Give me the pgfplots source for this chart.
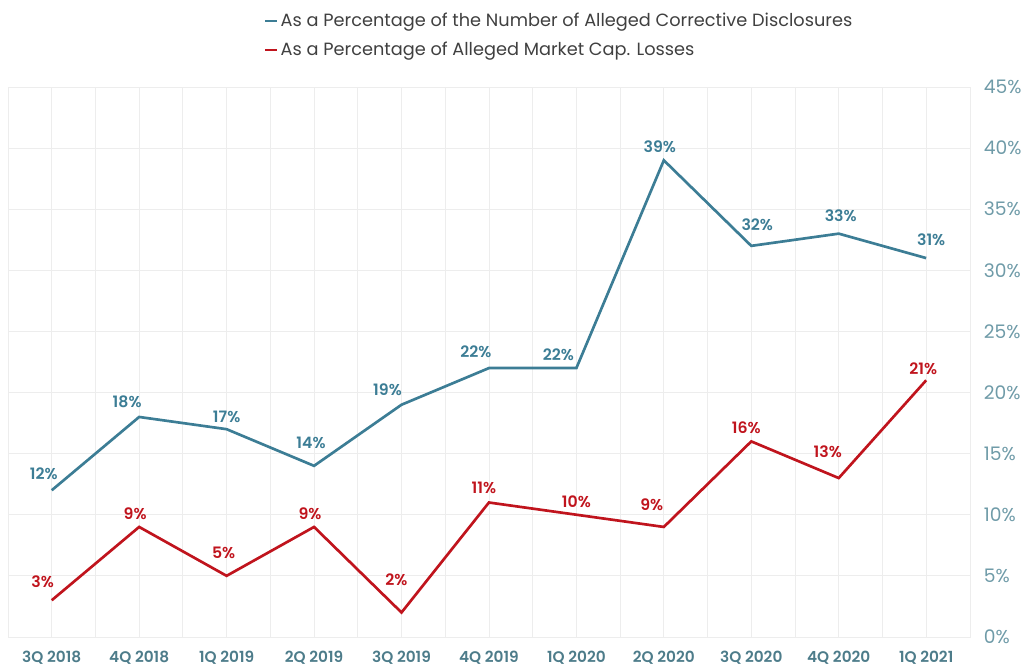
\documentclass[border=0pt]{standalone}
\usepackage{pgfplots}
\pgfplotsset{compat=1.18}
\usepackage{fontspec}
\setmainfont{Poppins}
\newfontfamily\psemi{Poppins SemiBold}
\definecolor{cblue}{HTML}{3C7D95}
\definecolor{cred}{HTML}{C0141D}
\definecolor{xlab}{HTML}{4D7C8A}
\definecolor{ylab}{HTML}{6F9BA8}
\definecolor{gridc}{HTML}{EDEDED}
\pgfplotstableread{
x y dx dy
0 12 -6 12.75
1 18 -9 11.25
2 17 0 9
3 14 -2.25 17.25
4 19 -10.5 11.25
5 22 -9.75 12
6 22 -13.5 9.75
7 39 -3 10.5
8 32 4.5 15.75
9 33 1.5 13.5
10 31 3.75 13.5
}\blue
\pgfplotstableread{
x y dx dy
0 3 -6.75 14.25
1 9 -3 9.75
2 5 -2.25 17.25
3 9 -3 9.75
4 2 -3.75 24.75
5 11 -3.75 11.25
6 10 0 9.75
7 9 -9 16.5
8 16 -3.75 10.5
9 13 -8.25 19.5
10 21 -2.25 9
}\red
\begin{document}
\begin{tikzpicture}
\begin{axis}[
  name=ax,
  scale only axis,
  width=721.5pt, height=412.5pt,
  xmin=-0.5, xmax=10.5, ymin=0, ymax=45,
  xtick={0,...,10},
  xticklabels={3Q 2018,4Q 2018,1Q 2019,2Q 2019,3Q 2019,4Q 2019,1Q 2020,2Q 2020,3Q 2020,4Q 2020,1Q 2021},
  minor x tick num=1,
  ytick={0,5,...,45},
  yticklabel={\pgfmathprintnumber{\tick}\%},
  yticklabel pos=right,
  /pgf/number format/assume math mode=true,
  major tick length=0pt, minor tick length=0pt,
  grid=both,
  major grid style={draw=gridc, line width=0.6pt},
  minor grid style={draw=gridc, line width=0.6pt},
  axis line style={draw=gridc},
  xticklabel style={font=\fontsize{11.5}{13}\selectfont\psemi, text=xlab, yshift=-7pt},
  yticklabel style={font=\fontsize{14}{16}\selectfont, text=ylab, xshift=7pt},
  legend style={draw=none, fill=none, at={(0.262,1.144)}, anchor=north west,
    font=\fontsize{13.3}{15}\selectfont, text=black!75, row sep=6pt, cells={anchor=west}},
  legend cell align=left,
  legend image code/.code={\draw[#1, line width=1.8pt] (0,0) -- (0.3cm,0);},
  visualization depends on={\thisrow{dx} \as \dx},
  visualization depends on={\thisrow{dy} \as \dy},
  nodes near coords={\pgfmathprintnumber{\pgfplotspointmeta}\%},
  point meta=explicit,
  every node near coord/.append style={font=\fontsize{11.8}{13}\selectfont\psemi, anchor=center, xshift=\dx pt, yshift=\dy pt},
]
\addplot[cblue, line width=2pt, every node near coord/.append style={text=cblue}] table[x=x, y=y, meta=y] {\blue};
\addlegendentry{As a Percentage of the Number of Alleged Corrective Disclosures}
\addplot[cred, line width=2pt, every node near coord/.append style={text=cred}] table[x=x, y=y, meta=y] {\red};
\addlegendentry{As a Percentage of Alleged Market Cap. Losses}
\end{axis}
\path[use as bounding box] ([xshift=-6pt,yshift=-21pt]ax.south west) rectangle ++(769.5pt,498.75pt);
\end{tikzpicture}
\end{document}
